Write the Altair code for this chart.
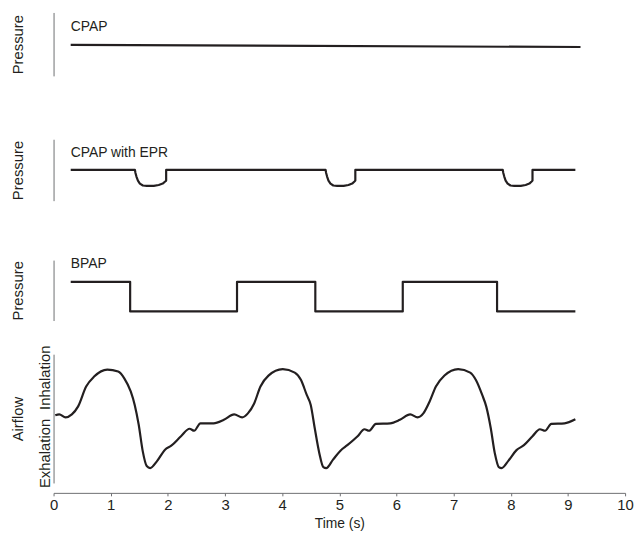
import altair as alt
import pandas as pd

INK = "#231f20"
AXIS = "#6d6e71"
FONT = "Liberation Sans"

# ---- data ----
cpap_t = [0.3, 9.22]
cpap_p = [0.49, 0.455]

epr_t = [0.3,
         1.424, 1.432, 1.45, 1.476, 1.51, 1.563, 1.632, 1.753, 1.84, 1.91, 1.953, 1.97, 1.97,
         4.76, 4.768, 4.786, 4.81, 4.845, 4.895, 4.96, 5.075, 5.16, 5.225, 5.265, 5.28, 5.28,
         7.86, 7.868, 7.886, 7.91, 7.945, 7.995, 8.06, 8.175, 8.26, 8.325, 8.365, 8.38, 8.38,
         9.13]
epr_p = [0.5,
         0.5, 0.456, 0.392, 0.327, 0.278, 0.247, 0.242, 0.242, 0.255, 0.278, 0.312, 0.327, 0.5,
         0.5, 0.456, 0.392, 0.327, 0.278, 0.247, 0.242, 0.242, 0.255, 0.278, 0.312, 0.327, 0.5,
         0.5, 0.456, 0.392, 0.327, 0.278, 0.247, 0.242, 0.242, 0.255, 0.278, 0.312, 0.327, 0.5,
         0.5]

bpap_t = [0.3, 1.34, 1.34, 3.21, 3.21, 4.58, 4.58, 6.11, 6.11, 7.76, 7.76, 9.13]
bpap_p = [0.64, 0.64, 0.15, 0.15, 0.64, 0.64, 0.15, 0.15, 0.64, 0.64, 0.15, 0.15]

flow_t = [0.03, 0.1, 0.21, 0.32, 0.43, 0.57, 0.71, 0.94, 1.13, 1.24, 1.35, 1.42, 1.49,
          1.56, 1.63, 1.69, 1.81, 1.95, 2.06, 2.23, 2.38, 2.46, 2.57, 2.8, 2.98, 3.16,
          3.3, 3.4, 3.51, 3.62, 3.76, 4.01, 4.22, 4.33, 4.43, 4.5, 4.57, 4.65, 4.72,
          4.77, 4.89, 5.02, 5.14, 5.32, 5.44, 5.52, 5.64, 5.89, 6.06, 6.24, 6.37, 6.47,
          6.58, 6.69, 6.84, 7.08, 7.29, 7.39, 7.5, 7.57, 7.65, 7.72, 7.79, 7.84, 7.96,
          8.1, 8.23, 8.38, 8.51, 8.6, 8.71, 8.94, 9.13]
flow_v = [-0.01, 0.01, -0.05, 0.01, 0.17, 0.57, 0.77, 0.91, 0.87, 0.73, 0.47, 0.2, -0.2,
          -0.73, -1.03, -1.07, -0.93, -0.7, -0.62, -0.43, -0.28, -0.32, -0.17, -0.17, -0.1, 0.01,
          -0.05, 0.03, 0.23, 0.57, 0.79, 0.92, 0.85, 0.7, 0.4, 0.2, -0.27, -0.77, -1.05,
          -1.07, -0.9, -0.72, -0.61, -0.43, -0.29, -0.32, -0.18, -0.17, -0.1, 0.01, -0.05, 0.03,
          0.27, 0.57, 0.79, 0.92, 0.85, 0.7, 0.4, 0.17, -0.27, -0.77, -1.05, -1.07, -0.92,
          -0.71, -0.61, -0.43, -0.29, -0.32, -0.18, -0.17, -0.09]

panel_labels = ["CPAP", "CPAP with EPR", "BPAP"]
label_t = [0.3, 0.3, 0.3]
label_y = [0.766, 0.774, 0.934]

flow_label_values = [0.757, -0.765]
x_ticks = list(range(0, 11))

W = 577
xscale = alt.Scale(domain=[0, 10], nice=False, zero=False)


def pressure_panel(ts, ps, label, ly, lt, height):
    df = pd.DataFrame({"t": ts, "p": ps, "i": list(range(len(ts)))})
    line = alt.Chart(df).mark_line(color=INK, strokeWidth=2.2, strokeJoin="round").encode(
        x=alt.X("t:Q", scale=xscale, axis=None),
        y=alt.Y("p:Q", scale=alt.Scale(domain=[0, 1], nice=False, zero=False),
                axis=alt.Axis(title="Pressure", labels=False, ticks=False, grid=False,
                              domainColor=AXIS, domainWidth=1, titleFontSize=15,
                              titleX=-36, titleY=height / 2, titleAngle=270,
                              titleAlign="center", titleBaseline="middle")),
        order="i:Q",
    )
    tdf = pd.DataFrame({"t": [lt], "p": [ly], "label": [label]})
    text = alt.Chart(tdf).mark_text(align="left", baseline="middle", fontSize=14,
                                    font=FONT, color=INK).encode(
        x=alt.X("t:Q", scale=xscale, axis=None),
        y=alt.Y("p:Q"),
        text="label:N",
    )
    return alt.layer(line, text).properties(width=W, height=height)


p1 = pressure_panel(cpap_t, cpap_p, panel_labels[0], label_y[0], label_t[0], 64)
p2 = pressure_panel(epr_t, epr_p, panel_labels[1], label_y[1], label_t[1], 62)
p3 = pressure_panel(bpap_t, bpap_p, panel_labels[2], label_y[2], label_t[2], 61)

fdf = pd.DataFrame({"t": flow_t, "v": flow_v, "i": list(range(len(flow_t)))})
p4 = alt.Chart(fdf).mark_line(color=INK, strokeWidth=2.2, interpolate="monotone").encode(
    x=alt.X("t:Q", scale=xscale,
            axis=alt.Axis(title="Time (s)", values=x_ticks, format="d", grid=False,
                          domainColor=AXIS, tickColor=AXIS, tickSize=3, offset=10,
                          labelFontSize=15, labelPadding=2, titlePadding=4,
                          labelFlush=False)),
    y=alt.Y("v:Q", scale=alt.Scale(domain=[-1.37, 1.22], nice=False, zero=False),
            axis=alt.Axis(title="Airflow", values=flow_label_values, grid=False,
                          labelExpr="datum.value > 0 ? 'Inhalation' : 'Exhalation'",
                          labelAngle=270, labelAlign="center", labelBaseline="middle",
                          labelPadding=9, tickSize=0, ticks=False, labelOverlap=False,
                          labelBound=False, labelFontSize=15, titleFontSize=15,
                          domainColor=AXIS, domainWidth=1,
                          titleX=-36, titleY=65, titleAngle=270,
                          titleAlign="center", titleBaseline="middle")),
    order="i:Q",
).properties(width=W, height=130)

chart = alt.vconcat(
    alt.vconcat(p1, p2, spacing=64),
    alt.vconcat(p3, p4, spacing=24),
    spacing=57,
).properties(
    padding={"left": 3, "top": 2, "right": 0, "bottom": 0}
).configure_view(stroke=None).configure_axis(
    labelFont=FONT, titleFont=FONT, labelColor=INK, titleColor=INK,
    titleFontWeight="normal", titleFontSize=14,
).configure_concat(spacing=20)

chart.save("out.html", embed_options={"renderer": "svg", "actions": False})
